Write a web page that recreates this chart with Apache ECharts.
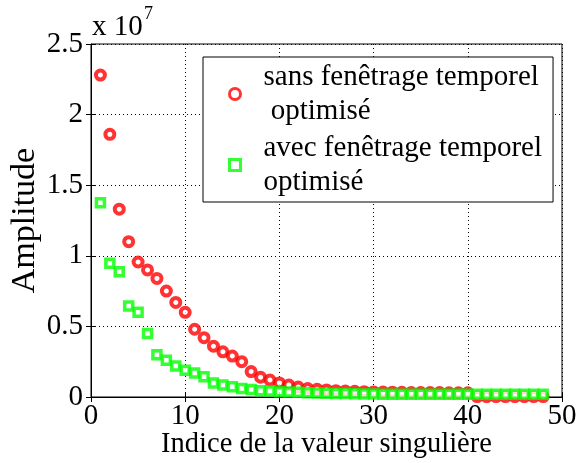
<!DOCTYPE html>
<html><head><meta charset="utf-8">
<script src="https://cdn.jsdelivr.net/npm/echarts@6/dist/echarts.min.js"></script>
<style>html,body{margin:0;padding:0;background:#fff}#c{width:577px;height:463px}</style>
</head><body><div id="c"></div>
<script>
const indices = Array.from({length:48},(_,i)=>i+1);
const sansValues = [2.28,1.86,1.33,1.10,0.956,0.90,0.84,0.75,0.67,0.60,0.48,0.42,0.36,0.32,0.29,0.25,0.18,0.14,0.12,0.10,
0.085,0.07,0.06,0.055,0.05,0.045,0.042,0.04,0.038,0.036,0.035,0.034,0.033,0.032,0.032,0.031,0.031,0.030,0.030,0.030,
0.003,0.003,0.003,0.003,0.003,0.003,0.003,0.003];
const avecValues = [1.376,0.947,0.887,0.645,0.60,0.45,0.30,0.26,0.22,0.19,0.17,0.144,0.10,0.085,0.073,0.061,0.054,0.045,0.042,0.038,
0.035,0.033,0.030,0.028,0.026,0.025,0.024,0.023,0.022,0.021,0.02,0.02,0.02,0.02,0.02,0.02,0.02,0.02,0.02,0.02,
0.02,0.02,0.02,0.02,0.02,0.02,0.02,0.02];
const xTicks = [0,10,20,30,40,50];
const yTicks = [0,0.5,1,1.5,2,2.5];
const scale = 1e7;
const names = ['sans fenêtrage temporel\n optimisé','avec fenêtrage temporel\noptimisé'];
const F = 'Liberation Serif';
const chart = echarts.init(document.getElementById('c'));
const gridLine = {show:true,lineStyle:{color:'#000',type:[1,3],width:1}};
chart.setOption({
  animation:false,
  textStyle:{fontFamily:F},
  grid:{left:91,right:15,top:44,bottom:66,containLabel:false,outerBoundsMode:'none',
    show:true,borderColor:'#000',borderWidth:1,backgroundColor:'transparent'},
  xAxis:[{type:'value',min:xTicks[0],max:xTicks[xTicks.length-1],interval:10,
    axisLine:{lineStyle:{color:'#000'}},axisTick:{inside:true,length:5,lineStyle:{color:'#000'}},
    splitLine:gridLine,
    axisLabel:{color:'#000',fontFamily:F,fontSize:29,margin:5},
    name:'Indice de la valeur singulière',nameLocation:'middle',nameGap:33,nameMoveOverlap:false,
    nameTextStyle:{color:'#000',fontFamily:F,fontSize:28.5}},
    {type:'value',position:'top',min:0,max:50,interval:10,axisLine:{show:false},
    axisTick:{inside:true,length:5,lineStyle:{color:'#000'}},axisLabel:{show:false},splitLine:{show:false}}],
  yAxis:[{type:'value',min:0,max:yTicks[yTicks.length-1]*scale,interval:0.5*scale,
    axisLine:{show:true,lineStyle:{color:'#000'}},axisTick:{show:true,inside:true,length:5,lineStyle:{color:'#000'}},
    splitLine:gridLine,
    axisLabel:{color:'#000',fontFamily:F,fontSize:29,margin:8,formatter:v=>String(+(v/scale).toFixed(1))},
    name:'Amplitude',nameLocation:'middle',nameGap:49,nameRotate:90,nameMoveOverlap:false,
    nameTextStyle:{color:'#000',fontFamily:F,fontSize:34}},
    {type:'value',position:'right',min:0,max:2.5*scale,interval:0.5*scale,axisLine:{show:false},
    axisTick:{show:true,inside:true,length:5,lineStyle:{color:'#000'}},axisLabel:{show:false},splitLine:{show:false}}],
  legend:{show:true,left:203,top:57,orient:'vertical',
    backgroundColor:'#fff',borderColor:'#000',borderWidth:1,padding:[3,11,3,25],itemGap:3,
    itemWidth:11,itemHeight:11,itemStyle:{borderWidth:3},
    textStyle:{fontFamily:F,fontSize:29,color:'#000',lineHeight:34,padding:[0,0,0,18]},
    data:names},
  graphic:[
    {type:'text',x:92,y:27,style:{text:'x 10',fontFamily:F,fontSize:29,fill:'#000',verticalAlign:'middle'}},
    {type:'text',x:144,y:14,style:{text:'7',fontFamily:F,fontSize:18,fill:'#000',verticalAlign:'middle'}}
  ],
  series:[
    {name:names[0],type:'scatter',data:indices.map((x,i)=>[x,sansValues[i]*scale]),
     symbol:'circle',symbolSize:9,itemStyle:{color:'#fff',borderColor:'#ff0000',borderWidth:4}},
    {name:names[1],type:'scatter',data:indices.map((x,i)=>[x,avecValues[i]*scale]),
     symbol:'rect',symbolSize:8,itemStyle:{color:'#fff',borderColor:'#00ff00',borderWidth:3.5}}
  ]
});
</script></body></html>
